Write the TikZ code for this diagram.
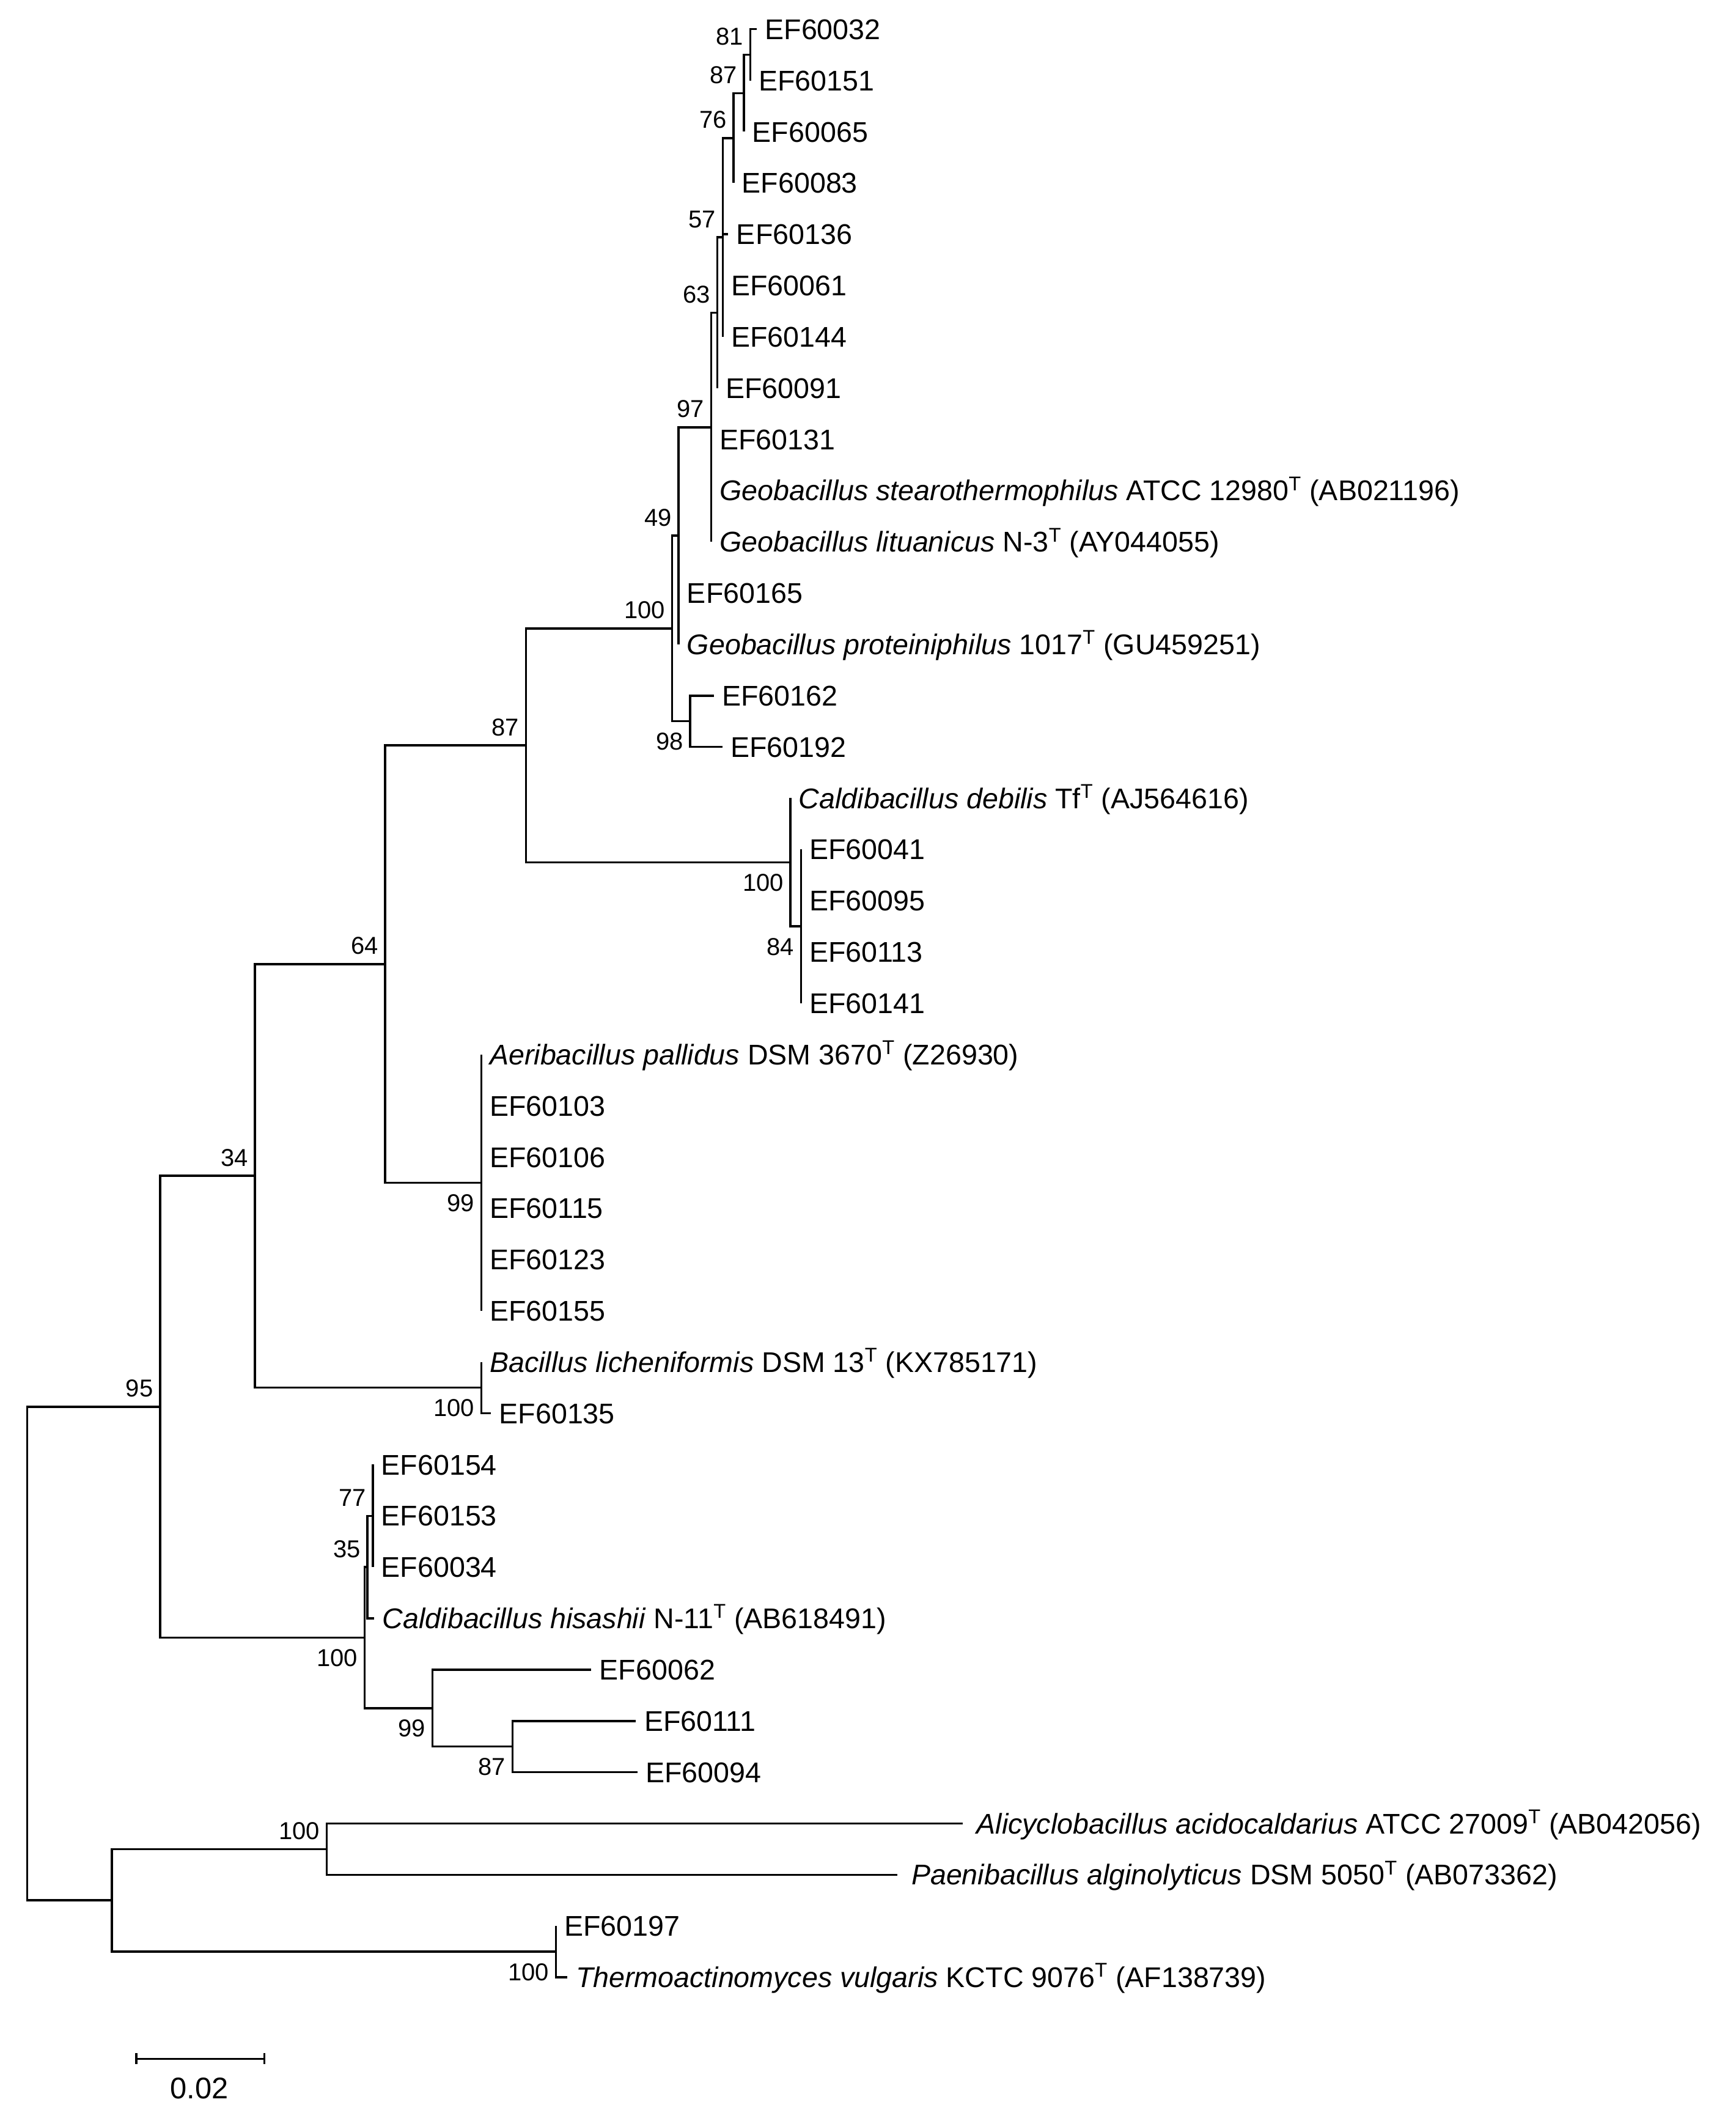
\documentclass[tikz,border=0pt]{standalone}
\usepackage{fontspec}
\setmainfont{Liberation Sans}
\begin{document}
\begin{tikzpicture}[x=1pt,y=-1pt,
  br/.style={line width=1.6pt},
  tx/.style={anchor=west,inner sep=0pt,xshift=6pt,font=\fontsize{21}{21}\selectfont,text height=15pt,text depth=0pt},
  bsa/.style={anchor=south east,inner sep=0pt,xshift=-5pt,yshift=7pt,font=\fontsize{18}{18}\selectfont,text height=13pt,text depth=0pt},
  bsb/.style={anchor=north east,inner sep=0pt,xshift=-5pt,yshift=-8pt,font=\fontsize{18}{18}\selectfont,text height=13pt,text depth=0pt}]
\useasboundingbox (0,0) rectangle (1280,1558);
\newcommand{\T}{\textsuperscript{T}}
% internal nodes
\coordinate (n81) at (553.4,40.4);
\coordinate (n87a) at (548.7,68.75);
\coordinate (n76) at (541,101.8);
\coordinate (n57) at (533,175);
\coordinate (n63) at (529,230.6);
\coordinate (n97) at (524.5,315);
\coordinate (n49) at (500.5,395);
\coordinate (n98) at (509,531.8);
\coordinate (n100g) at (495.7,463.4);
\coordinate (n84) at (590.7,683);
\coordinate (nCd) at (583,635.8);
\coordinate (n87b) at (388,549.6);
\coordinate (n99a) at (355,872);
\coordinate (n64) at (284,710.8);
\coordinate (nBl) at (355,1023.2);
\coordinate (n34) at (188,867);
\coordinate (n77) at (275,1117.7);
\coordinate (n35) at (271,1155.5);
\coordinate (n87c) at (378,1287.8);
\coordinate (n99b) at (319,1259.5);
\coordinate (nCh) at (269,1207.5);
\coordinate (n95) at (118,1037.2);
\coordinate (nAl) at (241,1363.4);
\coordinate (nTh) at (410,1439);
\coordinate (n82) at (82.5,1401.2);
\coordinate (root) at (20,1219.2);
% tips
\foreach \i/\x in {0/558,1/553.4,2/548.7,3/541,4/537,5/533,6/533,7/529,8/524.5,9/524.5,10/524.5,11/500.5,12/500.5,13/526.4,14/532.7,15/583,16/590.7,17/590.7,18/590.7,19/590.7,20/355,21/355,22/355,23/355,24/355,25/355,26/355,27/362,28/275,29/275,30/275,31/276,32/436,33/469,34/470,35/710,36/662,37/410,38/418.5}
  \coordinate (t\i) at (\x,21.5+37.8*\i);
% branches
\draw[br] (n81) |- (t0) (n81) |- (t1);
\draw[br] (n87a) |- (n81) (n87a) |- (t2);
\draw[br] (n76) |- (n87a) (n76) |- (t3);
\draw[br] (n57) |- (n76) (n57) |- (t4) (n57) |- (t5) (n57) |- (t6);
\draw[br] (n63) |- (n57) (n63) |- (t7);
\draw[br] (n97) |- (n63) (n97) |- (t8) (n97) |- (t9) (n97) |- (t10);
\draw[br] (n49) |- (n97) (n49) |- (t11) (n49) |- (t12);
\draw[br] (n98) |- (t13) (n98) |- (t14);
\draw[br] (n100g) |- (n49) (n100g) |- (n98);
\draw[br] (n84) |- (t16) (n84) |- (t19);
\draw[br] (nCd) |- (t15) (nCd) |- (n84);
\draw[br] (n87b) |- (n100g) (n87b) |- (nCd);
\draw[br] (n99a) |- (t20) (n99a) |- (t25);
\draw[br] (n64) |- (n87b) (n64) |- (n99a);
\draw[br] (nBl) |- (t26) (nBl) |- (t27);
\draw[br] (n34) |- (n64) (n34) |- (nBl);
\draw[br] (n77) |- (t28) (n77) |- (t30);
\draw[br] (n35) |- (n77) (n35) |- (t31);
\draw[br] (n87c) |- (t33) (n87c) |- (t34);
\draw[br] (n99b) |- (t32) (n99b) |- (n87c);
\draw[br] (nCh) |- (n35) (nCh) |- (n99b);
\draw[br] (n95) |- (n34) (n95) |- (nCh);
\draw[br] (nAl) |- (t35) (nAl) |- (t36);
\draw[br] (nTh) |- (t37) (nTh) |- (t38);
\draw[br] (n82) |- (nAl) (n82) |- (nTh);
\draw[br] (root) |- (n95) (root) |- (n82);
% taxa
\node[tx] (L0) at (t0) {EF60032};
\node[tx] (L1) at (t1) {EF60151};
\node[tx] (L2) at (t2) {EF60065};
\node[tx] (L3) at (t3) {EF60083};
\node[tx] (L4) at (t4) {EF60136};
\node[tx] (L5) at (t5) {EF60061};
\node[tx] (L6) at (t6) {EF60144};
\node[tx] (L7) at (t7) {EF60091};
\node[tx] (L8) at (t8) {EF60131};
\node[tx] (L9) at (t9) {\textit{Geobacillus stearothermophilus} ATCC 12980\T{} (AB021196)};
\node[tx] (L10) at (t10) {\textit{Geobacillus lituanicus} N-3\T{} (AY044055)};
\node[tx] (L11) at (t11) {EF60165};
\node[tx] (L12) at (t12) {\textit{Geobacillus proteiniphilus} 1017\T{} (GU459251)};
\node[tx] (L13) at (t13) {EF60162};
\node[tx] (L14) at (t14) {EF60192};
\node[tx] (L15) at (t15) {\textit{Caldibacillus debilis} Tf\T{} (AJ564616)};
\node[tx] (L16) at (t16) {EF60041};
\node[tx] (L17) at (t17) {EF60095};
\node[tx] (L18) at (t18) {EF60113};
\node[tx] (L19) at (t19) {EF60141};
\node[tx] (L20) at (t20) {\textit{Aeribacillus pallidus} DSM 3670\T{} (Z26930)};
\node[tx] (L21) at (t21) {EF60103};
\node[tx] (L22) at (t22) {EF60106};
\node[tx] (L23) at (t23) {EF60115};
\node[tx] (L24) at (t24) {EF60123};
\node[tx] (L25) at (t25) {EF60155};
\node[tx] (L26) at (t26) {\textit{Bacillus licheniformis} DSM 13\T{} (KX785171)};
\node[tx] (L27) at (t27) {EF60135};
\node[tx] (L28) at (t28) {EF60154};
\node[tx] (L29) at (t29) {EF60153};
\node[tx] (L30) at (t30) {EF60034};
\node[tx] (L31) at (t31) {\textit{Caldibacillus hisashii} N-11\T{} (AB618491)};
\node[tx] (L32) at (t32) {EF60062};
\node[tx] (L33) at (t33) {EF60111};
\node[tx] (L34) at (t34) {EF60094};
\node[tx,xshift=4pt] (L35) at (t35) {\textit{Alicyclobacillus acidocaldarius} ATCC 27009\T{} (AB042056)};
\node[tx,xshift=4pt] (L36) at (t36) {\textit{Paenibacillus alginolyticus} DSM 5050\T{} (AB073362)};
\node[tx] (L37) at (t37) {EF60197};
\node[tx] (L38) at (t38) {\textit{Thermoactinomyces vulgaris} KCTC 9076\T{} (AF138739)};
% bootstrap values
\node[bsa] (b81) at (n81) {81};
\node[bsa] (b87a) at (n87a) {87};
\node[bsa] (b76) at (n76) {76};
\node[bsa] (b57) at (n57) {57};
\node[bsa] (b63) at (n63) {63};
\node[bsa] (b97) at (n97) {97};
\node[bsa] (b49) at (n49) {49};
\node[bsa] (b100g) at (n100g) {100};
\node[bsb] (b98) at (n98) {98};
\node[bsb] (bCd) at (nCd) {100};
\node[bsb] (b84) at (n84) {84};
\node[bsa] (b87b) at (n87b) {87};
\node[bsb] (b99a) at (n99a) {99};
\node[bsa] (b64) at (n64) {64};
\node[bsb] (bBl) at (nBl) {100};
\node[bsa] (b34) at (n34) {34};
\node[bsa] (b77) at (n77) {77};
\node[bsa] (b35) at (n35) {35};
\node[bsb] (b99b) at (n99b) {99};
\node[bsb] (b87c) at (n87c) {87};
\node[bsb] (bCh) at (nCh) {100};
\node[bsa] (b95) at (n95) {95};
\node[bsa] (bAl) at (nAl) {100};
\node[bsb] (bTh) at (nTh) {100};
% scale bar
\coordinate (s1) at (100.6,1518);
\coordinate (s2) at (195,1518);
\draw[br] (s1) -- (s2);
\draw[br] ([yshift=4pt]s1) -- ([yshift=-4pt]s1);
\draw[br] ([yshift=4pt]s2) -- ([yshift=-4pt]s2);
\node[font=\fontsize{22}{22}\selectfont,inner sep=0pt] (sl) at (147,1540) {0.02};
\end{tikzpicture}
\end{document}
